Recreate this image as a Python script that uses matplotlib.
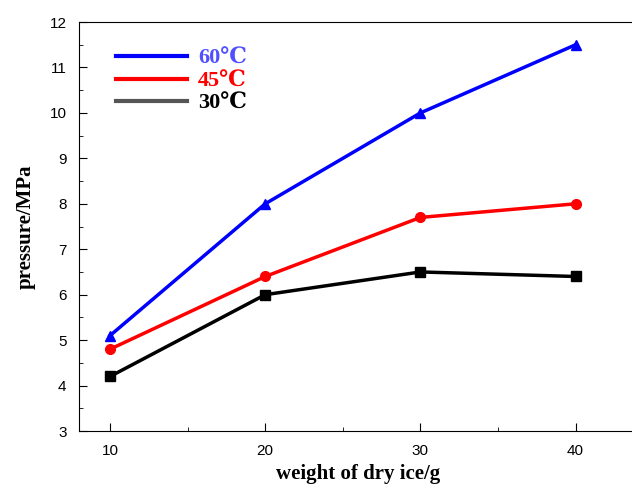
import matplotlib
matplotlib.use("Agg")
import matplotlib.pyplot as plt
from matplotlib.ticker import MultipleLocator

weight = [10, 20, 30, 40]
p60 = [5.1, 8.0, 10.0, 11.5]
p45 = [4.8, 6.4, 7.7, 8.0]
p30 = [4.2, 6.0, 6.5, 6.4]

serif = ["Liberation Serif", "DejaVu Serif"]

fig = plt.figure(figsize=(6.32, 4.84), dpi=100)
ax = fig.add_axes([0.125, 0.1095, 0.884, 0.845])

ax.plot(weight, p60, color="#0000ff", lw=2.5, marker="^", ms=7.5, label="60℃")
ax.plot(weight, p45, color="#ff0000", lw=2.5, marker="o", ms=7, label="45℃")
ax.plot(weight, p30, color="#000000", lw=2.5, marker="s", ms=6.5, label="30℃")

ax.set_xlim(8, 44)
ax.set_ylim(3, 12)
ax.xaxis.set_major_locator(MultipleLocator(10))
ax.xaxis.set_minor_locator(MultipleLocator(5))
ax.yaxis.set_major_locator(MultipleLocator(1))
ax.yaxis.set_minor_locator(MultipleLocator(0.5))
ax.tick_params(which="both", direction="in", labelsize=11)
ax.tick_params(which="major", length=6, pad=9)
ax.tick_params(which="minor", length=3)
for lab in ax.get_xticklabels() + ax.get_yticklabels():
    lab.set_fontfamily("Liberation Sans")
ax.spines["right"].set_visible(False)

ax.set_xlabel("weight of dry ice/g", family=serif, fontweight="bold", fontsize=15, labelpad=5)
ax.set_ylabel("pressure/MPa", family=serif, fontweight="bold", fontsize=15, labelpad=10)

h60 = plt.Line2D([], [], color="#0000ff", lw=3)
h45 = plt.Line2D([], [], color="#ff0000", lw=3)
h30 = plt.Line2D([], [], color="#555555", lw=3)
leg = ax.legend([h60, h45, h30], ["60℃", "45℃", "30℃"], loc="upper left",
                bbox_to_anchor=(0.03, 0.985), frameon=False, handlelength=3.2,
                handletextpad=0.5, labelspacing=0.1,
                prop={"family": serif, "weight": "bold", "size": 16})
for t, c in zip(leg.get_texts(), ["#5050ff", "#ff0000", "#000000"]):
    t.set_color(c)

fig.savefig("out.png", dpi=100)
